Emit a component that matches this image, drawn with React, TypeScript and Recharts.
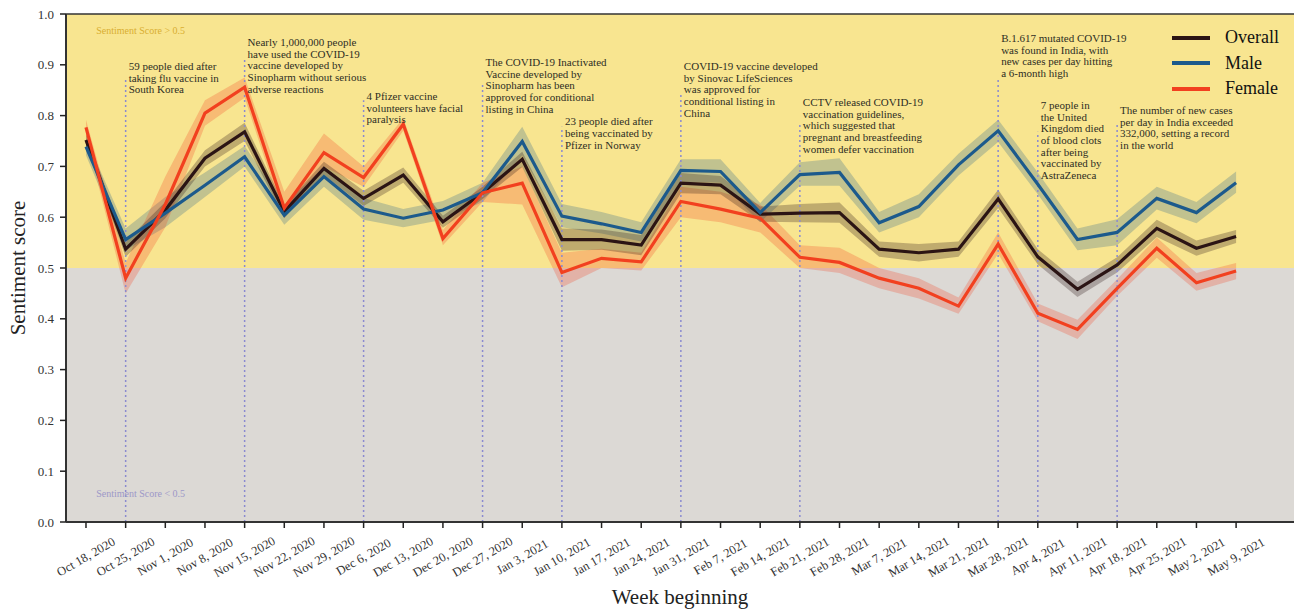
import {
  ComposedChart, Line, Area,
  XAxis, YAxis, Legend,
  ReferenceArea, ReferenceLine, ReferenceDot,
} from 'recharts'

document.body.style.margin = '0'

const FONT = '"Liberation Serif", "Times New Roman", serif'

const weeks = [
  'Oct 18, 2020', 'Oct 25, 2020', 'Nov 1, 2020', 'Nov 8, 2020', 'Nov 15, 2020', 'Nov 22, 2020',
  'Nov 29, 2020', 'Dec 6, 2020', 'Dec 13, 2020', 'Dec 20, 2020', 'Dec 27, 2020', 'Jan 3, 2021',
  'Jan 10, 2021', 'Jan 17, 2021', 'Jan 24, 2021', 'Jan 31, 2021', 'Feb 7, 2021', 'Feb 14, 2021',
  'Feb 21, 2021', 'Feb 28, 2021', 'Mar 7, 2021', 'Mar 14, 2021', 'Mar 21, 2021', 'Mar 28, 2021',
  'Apr 4, 2021', 'Apr 11, 2021', 'Apr 18, 2021', 'Apr 25, 2021', 'May 2, 2021', 'May 9, 2021',
]

const overall = [0.752, 0.537, 0.614, 0.716, 0.768, 0.611, 0.696, 0.637, 0.683, 0.591, 0.648, 0.714, 0.556, 0.556, 0.545, 0.667, 0.663, 0.606, 0.608, 0.609, 0.537, 0.530, 0.537, 0.636, 0.522, 0.458, 0.506, 0.578, 0.539, 0.562]
const overallLow = [0.740, 0.522, 0.598, 0.700, 0.750, 0.599, 0.683, 0.622, 0.668, 0.579, 0.636, 0.699, 0.534, 0.536, 0.525, 0.647, 0.645, 0.591, 0.590, 0.589, 0.522, 0.513, 0.522, 0.618, 0.507, 0.443, 0.491, 0.561, 0.524, 0.549]
const overallHigh = [0.764, 0.552, 0.630, 0.732, 0.786, 0.623, 0.709, 0.652, 0.698, 0.603, 0.660, 0.729, 0.578, 0.576, 0.565, 0.687, 0.681, 0.621, 0.626, 0.629, 0.552, 0.547, 0.552, 0.654, 0.537, 0.473, 0.521, 0.595, 0.554, 0.575]

const male = [0.739, 0.556, 0.608, 0.663, 0.719, 0.604, 0.680, 0.616, 0.598, 0.614, 0.648, 0.749, 0.602, 0.587, 0.570, 0.692, 0.690, 0.609, 0.684, 0.688, 0.589, 0.621, 0.703, 0.770, 0.665, 0.556, 0.570, 0.637, 0.609, 0.668]
const maleLow = [0.722, 0.535, 0.580, 0.640, 0.700, 0.585, 0.660, 0.595, 0.580, 0.595, 0.630, 0.722, 0.580, 0.568, 0.552, 0.670, 0.668, 0.590, 0.662, 0.662, 0.570, 0.600, 0.682, 0.748, 0.645, 0.535, 0.545, 0.615, 0.588, 0.648]
const maleHigh = [0.756, 0.578, 0.640, 0.688, 0.740, 0.625, 0.700, 0.638, 0.616, 0.632, 0.668, 0.778, 0.626, 0.610, 0.590, 0.714, 0.714, 0.628, 0.708, 0.716, 0.610, 0.645, 0.725, 0.792, 0.688, 0.578, 0.596, 0.660, 0.630, 0.690]

const female = [0.777, 0.480, 0.625, 0.805, 0.856, 0.618, 0.727, 0.678, 0.783, 0.558, 0.648, 0.667, 0.491, 0.519, 0.512, 0.631, 0.616, 0.598, 0.521, 0.511, 0.480, 0.460, 0.425, 0.547, 0.411, 0.379, 0.460, 0.539, 0.471, 0.494]
const femaleLow = [0.760, 0.450, 0.580, 0.780, 0.835, 0.598, 0.700, 0.660, 0.770, 0.545, 0.630, 0.625, 0.462, 0.500, 0.495, 0.600, 0.590, 0.570, 0.500, 0.490, 0.460, 0.440, 0.410, 0.528, 0.395, 0.360, 0.445, 0.520, 0.455, 0.478]
const femaleHigh = [0.792, 0.510, 0.680, 0.830, 0.875, 0.650, 0.765, 0.700, 0.795, 0.575, 0.668, 0.700, 0.530, 0.538, 0.530, 0.660, 0.650, 0.625, 0.545, 0.540, 0.500, 0.480, 0.442, 0.570, 0.430, 0.398, 0.478, 0.560, 0.490, 0.510]

const yTicks = [0, 0.1, 0.2, 0.3, 0.4, 0.5, 0.6, 0.7, 0.8, 0.9, 1.0]

// events: which week the dotted marker sits on, and the note text
const eventWeeks = [1, 4, 7, 10, 12, 15, 18, 23, 24, 26]
const eventTexts = [
  ['59 people died after', 'taking flu vaccine in', 'South Korea'],
  ['Nearly 1,000,000 people', 'have used the COVID-19', 'vaccine developed by', 'Sinopharm without serious', 'adverse reactions'],
  ['4 Pfizer vaccine', 'volunteers have facial', 'paralysis'],
  ['The COVID-19 Inactivated', 'Vaccine developed by', 'Sinopharm has been', 'approved for conditional', 'listing in China'],
  ['23 people died after', 'being vaccinated by', 'Pfizer in Norway'],
  ['COVID-19 vaccine developed', 'by Sinovac LifeSciences', 'was approved for', 'conditional listing in', 'China'],
  ['CCTV released COVID-19', 'vaccination guidelines,', 'which suggested that', 'pregnant and breastfeeding', 'women defer vaccination'],
  ['B.1.617 mutated COVID-19', 'was found in India, with', 'new cases per day hitting', 'a 6-month high'],
  ['7 people in', 'the United', 'Kingdom died', 'of blood clots', 'after being', 'vaccinated by', 'AstraZeneca'],
  ['The number of new cases', 'per day in India exceeded', '332,000, setting a record', 'in the world'],
]
// layout only: top of each dotted marker and baseline of the first note line (in score units)
const eventLineTop = [0.876, 0.913, 0.83, 0.864, 0.778, 0.846, 0.787, 0.876, 0.768, 0.787]
const eventTextY = [0.89, 0.937, 0.831, 0.898, 0.781, 0.89, 0.819, 0.945, 0.813, 0.803]

const SERIES = [
  { name: 'Overall', color: '#2b1414' },
  { name: 'Male', color: '#1c5a8c' },
  { name: 'Female', color: '#f2401f' },
]

const data = weeks.map((w, i) => ({
  i,
  week: w,
  overall: overall[i],
  male: male[i],
  female: female[i],
  overallBand: [overallLow[i], overallHigh[i]],
  maleBand: [maleLow[i], maleHigh[i]],
  femaleBand: [femaleLow[i], femaleHigh[i]],
}))

function WeekTick({ x, y, payload }: any) {
  return (
    <text
      transform={`translate(${x},${y + 27}) rotate(-30)`}
      textAnchor="middle"
      dominantBaseline="central"
      fontSize={12.5}
      fontFamily={FONT}
      fill="#333"
    >
      {weeks[payload.value]}
    </text>
  )
}

function YTitle({ viewBox }: any) {
  if (!viewBox) return null
  const cx = 18
  const cy = viewBox.y + viewBox.height / 2
  return (
    <text x={cx} y={cy} transform={`rotate(-90 ${cx} ${cy})`} textAnchor="middle"
      dominantBaseline="central" fontSize={21} fontFamily={FONT} fill="#222">
      Sentiment score
    </text>
  )
}

function XTitle({ viewBox }: any) {
  if (!viewBox) return null
  const cx = viewBox.x + viewBox.width / 2
  return (
    <text x={cx} y={604} textAnchor="middle" fontSize={21} fontFamily={FONT} fill="#222">
      Week beginning
    </text>
  )
}

function Note({ viewBox, lines, size = 11, color = '#2e2e24' }: any) {
  if (!viewBox) return null
  const x = viewBox.x + 3
  return (
    <text x={x} y={viewBox.y} fontSize={size} fontFamily={FONT} fill={color}>
      {lines.map((l: string, k: number) => (
        <tspan key={k} x={x} dy={k === 0 ? 0 : 11.7}>{l}</tspan>
      ))}
    </text>
  )
}

function LegendBox() {
  return (
    <div style={{ fontFamily: FONT, fontSize: 18, color: '#111' }}>
      {SERIES.map(s => (
        <div key={s.name} style={{ display: 'flex', alignItems: 'center', height: 25.5 }}>
          <span style={{ display: 'inline-block', width: 38, height: 4, background: s.color, marginRight: 15 }} />
          {s.name}
        </div>
      ))}
    </div>
  )
}

export default function App() {
  return (
    <ComposedChart
      width={1294}
      height={609}
      data={data}
      margin={{ top: 14, right: 0, bottom: 0, left: 10 }}
      style={{ fontFamily: FONT }}
    >
      <ReferenceArea y1={0.5} y2={1} fill="#f8e590" fillOpacity={1} stroke="none" />
      <ReferenceArea y1={0} y2={0.5} fill="#dcd9d5" fillOpacity={1} stroke="none" />
      <ReferenceLine y={1} stroke="#333" strokeWidth={1.5} />

      {eventWeeks.map((w, k) => (
        <ReferenceLine
          key={'ev' + k}
          segment={[{ x: w, y: 0 }, { x: w, y: eventLineTop[k] }]}
          stroke="#8a8ad0"
          strokeWidth={1.5}
          strokeDasharray="2 3"
        />
      ))}

      <XAxis
        type="number"
        dataKey="i"
        domain={[-0.504, 30.46]}
        allowDataOverflow
        ticks={weeks.map((_, i) => i)}
        interval={0}
        height={87}
        tick={<WeekTick />}
        tickSize={6}
        tickLine={{ stroke: '#222', strokeWidth: 1.5 }}
        axisLine={{ stroke: '#333', strokeWidth: 2 }}
        label={<XTitle />}
      />
      <YAxis
        type="number"
        domain={[0, 1]}
        ticks={yTicks}
        width={56}
        tickFormatter={(v: number) => v.toFixed(1)}
        tick={{ fill: '#333', fontSize: 13, fontFamily: FONT }}
        tickSize={6}
        tickMargin={6}
        tickLine={{ stroke: '#222', strokeWidth: 1.5 }}
        axisLine={{ stroke: '#333', strokeWidth: 2 }}
        label={<YTitle />}
      />

      <Area dataKey="maleBand" stroke="none" fill="#1c5a8c" fillOpacity={0.25} isAnimationActive={false} />
      <Area dataKey="femaleBand" stroke="none" fill="#f2401f" fillOpacity={0.25} isAnimationActive={false} />
      <Area dataKey="overallBand" stroke="none" fill="#2b1414" fillOpacity={0.28} isAnimationActive={false} />

      <Line dataKey="overall" stroke="#2b1414" strokeWidth={3.2} dot={false} isAnimationActive={false} />
      <Line dataKey="male" stroke="#1c5a8c" strokeWidth={3.2} dot={false} isAnimationActive={false} />
      <Line dataKey="female" stroke="#f2401f" strokeWidth={3.2} dot={false} isAnimationActive={false} />

      {eventWeeks.map((w, k) => (
        <ReferenceDot key={'nt' + k} x={w} y={eventTextY[k]} r={0} stroke="none" fill="none"
          label={<Note lines={eventTexts[k]} />} />
      ))}
      <ReferenceDot x={0.18} y={0.961} r={0} stroke="none" fill="none"
        label={<Note lines={['Sentiment Score > 0.5']} size={10} color="#d8ae30" />} />
      <ReferenceDot x={0.18} y={0.049} r={0} stroke="none" fill="none"
        label={<Note lines={['Sentiment Score < 0.5']} size={10} color="#9c98c8" />} />

      <Legend
        layout="vertical"
        align="center"
        verticalAlign="middle"
        wrapperStyle={{ top: 25, left: 1172, width: 120 }}
        content={() => <LegendBox />}
      />
    </ComposedChart>
  )
}
